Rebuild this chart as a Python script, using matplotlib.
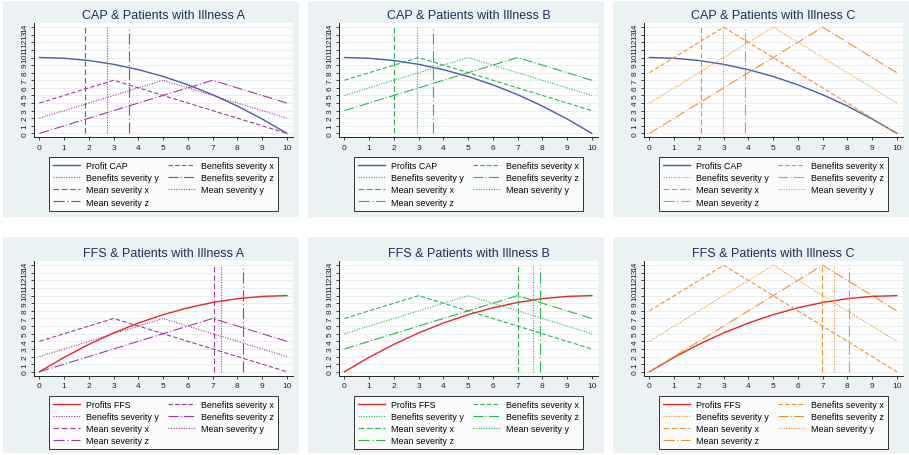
import numpy as np
import matplotlib
matplotlib.use("Agg")
import matplotlib.pyplot as plt
from matplotlib.patches import Rectangle

plt.rcParams['font.family'] = ['Liberation Sans', 'DejaVu Sans']

# data
x_grid = [0, 1, 2, 3, 4, 5, 6, 7, 8, 9, 10]
profit_cap = [10, 9.9, 9.6, 9.1, 8.4, 7.5, 6.4, 5.1, 3.6, 1.9, 0]
profit_ffs = [0, 1.9, 3.6, 5.1, 6.4, 7.5, 8.4, 9.1, 9.6, 9.9, 10]

x_ben_x = [0, 3, 10]
x_ben_y = [0, 5, 10]
x_ben_z = [0, 7, 10]
ben_A = {'x': [4, 7, 0], 'y': [2, 7, 2], 'z': [0, 7, 4]}
ben_B = {'x': [7, 10, 3], 'y': [5, 10, 5], 'z': [3, 10, 7]}
ben_C = {'x': [8, 14, 0], 'y': [4, 14, 4], 'z': [0, 14, 8]}

mean_cap = {'A': [1.84, 2.74, 3.62], 'B': [2.02, 2.92, 3.58], 'C': [2.07, 2.97, 3.85]}
mean_ffs = {'A': [7.05, 7.35, 8.21], 'B': [7.01, 7.62, 7.90], 'C': [6.96, 7.46, 8.05]}

ill_colors = {'A': '#9B3C9E', 'B': '#2EB24F', 'C': '#F0912E'}
ben = {'A': ben_A, 'B': ben_B, 'C': ben_C}

W, H = 909, 456
fig = plt.figure(figsize=(W / 100, H / 100), dpi=100)
fig.patch.set_facecolor('white')

def fx(px):
    return px / W

def fy(py):
    return 1 - py / H

ls_bx = (0, (4, 2))
ls_by = (0, (1, 1.3))
ls_bz = (0, (9, 2, 1, 2))
ls_mx = (0, (5, 2.5))
ls_my = (0, (1, 1.3))
ls_mz = (0, (10, 2.5, 1, 2.5))

panel_left = [3, 308, 613]
row_top = [2, 238]

for r, scheme in enumerate(['CAP', 'FFS']):
    for c, ill in enumerate(['A', 'B', 'C']):
        px0 = panel_left[c]
        py0 = row_top[r]
        fig.patches.append(Rectangle((fx(px0), fy(py0 + 216)), 296 / W, 216 / H,
                                     transform=fig.transFigure, facecolor='#EAF2F3',
                                     edgecolor='none', zorder=-5))
        if r == 0:
            top, bot = 24, 138.3
        else:
            top, bot = 262, 376.7
        ax = fig.add_axes([fx(px0 + 31), fy(bot), 259 / W, (bot - top) / H])
        ax.set_facecolor('white')
        col = ill_colors[ill]
        b = ben[ill]
        if scheme == 'CAP':
            h0, = ax.plot(x_grid, profit_cap, color='#4A5BA8', lw=1.0, label='Profit CAP' if ill == 'A' else 'Profits CAP')
            means = mean_cap[ill]
        else:
            h0, = ax.plot(x_grid, profit_ffs, color='#E8262B', lw=1.0, label='Profits FFS')
            means = mean_ffs[ill]
        h1, = ax.plot(x_ben_x, b['x'], color=col, lw=0.8, linestyle=ls_bx, label='Benefits severity x')
        h2, = ax.plot(x_ben_y, b['y'], color=col, lw=0.8, linestyle=ls_by, label='Benefits severity y')
        h3, = ax.plot(x_ben_z, b['z'], color=col, lw=0.8, linestyle=ls_bz, label='Benefits severity z')
        h4, = ax.plot([means[0], means[0]], [0, 14], color=col, lw=0.8, linestyle=ls_mx, label='Mean severity x')
        h5, = ax.plot([means[1], means[1]], [0, 14], color=col, lw=0.8, linestyle=ls_my, label='Mean severity y')
        h6, = ax.plot([means[2], means[2]], [0, 14], color=col, lw=0.8, linestyle=ls_mz, label='Mean severity z')

        ax.set_xlim(-0.22, 10.25)
        ax.set_ylim(-0.52, 14.55)
        ax.set_xticks(np.arange(0, 11, 1))
        ax.set_yticks(np.arange(0, 15, 1))
        ax.set_yticklabels([str(v) for v in range(15)], rotation=90, va='center')
        ax.tick_params(axis='both', labelsize=6, length=2.5, width=0.6, pad=2, colors='#222222')
        ax.tick_params(axis='y', pad=1.5)
        for s in ['top', 'right']:
            ax.spines[s].set_visible(False)
        for s in ['left', 'bottom']:
            ax.spines[s].set_linewidth(0.7)
            ax.spines[s].set_color('#222222')
        ax.grid(axis='y', color='#E3ECEE', lw=0.6)
        ax.set_axisbelow(True)
        ax.set_title(f'{scheme} & Patients with Illness {ill}', fontsize=9,
                     color='#1F2D5C', pad=3.5)

        handles = [h0, h2, h4, h6, h1, h3, h5]
        leg = ax.legend(handles=handles, ncol=2, loc='upper center',
                        bbox_to_anchor=(0.5, -0.135), fontsize=6.4, frameon=True,
                        fancybox=False, edgecolor='black', handlelength=3.0,
                        handletextpad=0.7, columnspacing=1.1, labelspacing=0.35,
                        borderpad=0.45)
        leg.get_frame().set_linewidth(0.7)

fig.savefig('out.png', dpi=100, facecolor='white')
